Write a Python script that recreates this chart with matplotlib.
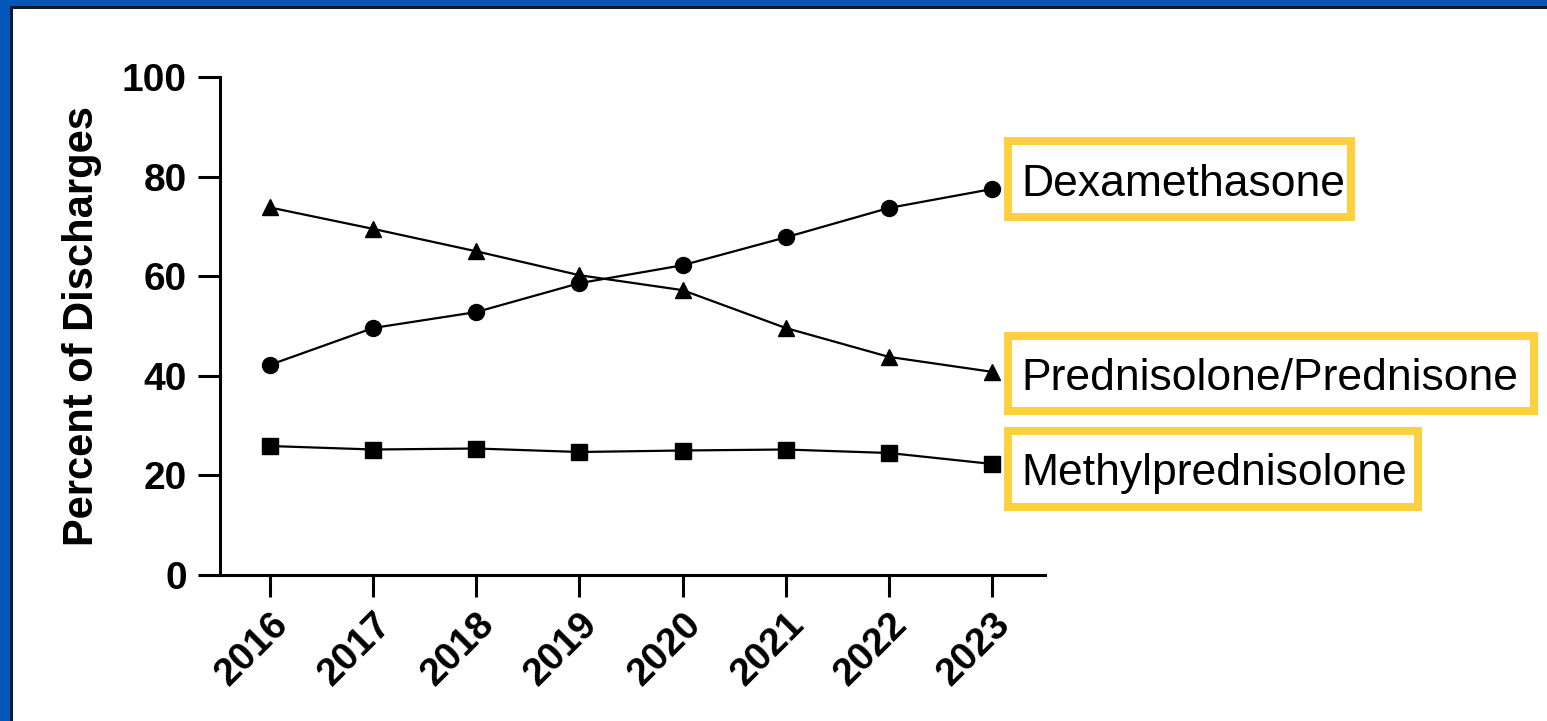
import matplotlib
matplotlib.use("Agg")
import matplotlib.pyplot as plt
from matplotlib.patches import Rectangle

years = [2016, 2017, 2018, 2019, 2020, 2021, 2022, 2023]
dexamethasone = [42.2, 49.6, 52.8, 58.6, 62.2, 67.8, 73.7, 77.5]
prednisolone = [73.8, 69.5, 65.0, 60.2, 57.2, 49.6, 43.8, 40.8]
methylpred = [25.9, 25.2, 25.4, 24.7, 25.0, 25.2, 24.5, 22.3]
yticks = [0, 20, 40, 60, 80, 100]
labels = ["Dexamethasone", "Prednisolone/Prednisone", "Methylprednisolone"]

W, H = 1547, 721
plt.rcParams['font.family'] = ['Liberation Sans', 'DejaVu Sans']

fig = plt.figure(figsize=(W / 100, H / 100), dpi=100)
fig.patch.set_facecolor("white")


def px_rect(x0, y0, x1, y1, **kw):
    # rectangle in figure pixel coords, y measured from the top
    return Rectangle((x0 / W, 1 - y1 / H), (x1 - x0) / W, (y1 - y0) / H,
                     transform=fig.transFigure, **kw)


# blue frame top / left
blue = "#0257B8"
fig.patches.append(px_rect(0, 0, W, 6, facecolor=blue, edgecolor="none"))
fig.patches.append(px_rect(0, 0, 10, H, facecolor=blue, edgecolor="none"))
fig.patches.append(px_rect(10, 6, W, 9, facecolor="#0a1a2a", edgecolor="none"))
fig.patches.append(px_rect(10, 6, 13, H, facecolor="#0a1a2a", edgecolor="none"))

ax = fig.add_axes([220 / W, 1 - 575 / H, (1045 - 220) / W, (575 - 77) / H])

lw = 1.6
ax.plot(years, dexamethasone, color="black", lw=lw, marker="o", ms=11.5, clip_on=False)
ax.plot(years, prednisolone, color="black", lw=lw, marker="^", ms=12, clip_on=False)
ax.plot(years, methylpred, color="black", lw=lw, marker="s", ms=11, clip_on=False)

ax.set_xlim(2015.515, 2023.514)
ax.set_ylim(0, 100)
ax.set_yticks(yticks)
ax.set_xticks(years)
ax.set_xticklabels([str(y) for y in years], rotation=45, ha="right",
                   va="top", rotation_mode="anchor")

for s in ["top", "right"]:
    ax.spines[s].set_visible(False)
for s in ["left", "bottom"]:
    ax.spines[s].set_linewidth(2.2)

ax.tick_params(axis="both", length=16, width=2.2, labelsize=28, direction="out")
ax.tick_params(axis="y", pad=8)
ax.tick_params(axis="x", pad=6)
for t in ax.get_xticklabels() + ax.get_yticklabels():
    t.set_fontweight("bold")

ax.set_ylabel("Percent of Discharges", fontsize=30, fontweight="bold", labelpad=14)

# labelled yellow boxes
yellow = "#FDD03F"
boxes = [(1004, 137, 1355, 221), (1004, 332, 1538, 415), (1004, 427, 1422, 511)]
for (x0, y0, x1, y1), lab in zip(boxes, labels):
    fig.patches.append(px_rect(x0 + 4, y0 + 4, x1 - 4, y1 - 4, facecolor="white",
                               edgecolor=yellow, linewidth=5.8))
    fig.text((x0 + 17) / W, 1 - ((y0 + y1) / 2 + 5) / H, lab, fontsize=32,
             ha="left", va="center", color="black")

fig.savefig("out.png", dpi=100)
